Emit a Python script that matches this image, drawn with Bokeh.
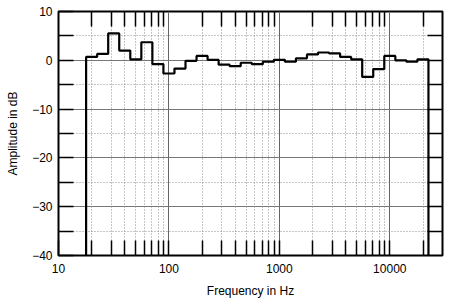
import math
from bokeh.plotting import figure
from bokeh.models import FixedTicker, LogAxis, LinearAxis, ColumnDataSource
from bokeh.embed import file_html
from bokeh.resources import INLINE

# one-third-octave band centres (Hz) and measured level (dB)
band_hz = [20, 25, 31.5, 40, 50, 63, 80, 100, 125, 160, 200, 250, 315, 400, 500,
           630, 800, 1000, 1250, 1600, 2000, 2500, 3150, 4000, 5000, 6300, 8000,
           10000, 12500, 16000, 20000]
level_db = [0.7, 1.3, 5.5, 2.0, 0.2, 3.7, -0.8, -2.7, -1.7, -0.1, 0.9, 0.1, -0.9, -1.2, -0.5,
            -0.8, -0.3, 0.1, -0.3, 0.4, 1.2, 1.6, 1.4, 0.7, 0.2, -3.4, -1.8,
            0.9, 0.0, -0.3, 0.2]
floor_db = -40

x_major = [10, 100, 1000, 10000]
x_minor = [20, 30, 40, 50, 60, 70, 80, 90, 200, 300, 400, 500, 600, 700, 800, 900,
           2000, 3000, 4000, 5000, 6000, 7000, 8000, 9000, 20000]
y_major = [-40, -30, -20, -10, 0, 10]
y_minor = [-35, -25, -15, -5, 5]

# build stepped outline from band edges
xs, ys = [], []
for i, (f, v) in enumerate(zip(band_hz, level_db)):
    k = round(10 * math.log10(f / 1000.0))
    lo = 1000.0 * 10 ** ((k - 0.5) / 10)
    hi = 1000.0 * 10 ** ((k + 0.5) / 10)
    if i == 0:
        xs.append(lo); ys.append(floor_db)
    xs += [lo, hi]
    ys += [v, v]
    if i == len(band_hz) - 1:
        xs.append(hi); ys.append(floor_db)

FONT = "Liberation Sans"

p = figure(width=450, height=307, x_axis_type="log", x_range=(10, 30000), y_range=(-40, 10),
           output_backend="svg", toolbar_location=None,
           min_border_left=58, min_border_right=8, min_border_top=11, min_border_bottom=52)
p.background_fill_color = "white"
p.border_fill_color = "white"
p.outline_line_color = "black"
p.outline_line_width = 2

xt = FixedTicker(ticks=x_major, minor_ticks=x_minor)
yt = FixedTicker(ticks=y_major, minor_ticks=y_minor)
p.xaxis.ticker = xt
p.yaxis.ticker = yt
p.xaxis.major_label_overrides = {10: "10", 100: "100", 1000: "1000", 10000: "10000"}

for ax in (p.xaxis[0], p.yaxis[0]):
    ax.axis_line_color = None
    ax.major_tick_in = 15
    ax.major_tick_out = 0
    ax.minor_tick_in = 15
    ax.minor_tick_out = 0
    ax.major_tick_line_color = "black"
    ax.minor_tick_line_color = "black"
    ax.major_tick_line_width = 1.5
    ax.minor_tick_line_width = 1.5
    ax.major_label_text_font = FONT
    ax.major_label_text_font_size = "12px"
    ax.major_label_text_color = "black"
    ax.axis_label_text_font = FONT
    ax.axis_label_text_font_size = "12px"
    ax.axis_label_text_font_style = "normal"
    ax.axis_label_text_color = "black"

p.xaxis.axis_label = "Frequency in Hz"
p.xaxis.major_label_standoff = 8
p.xaxis.axis_label_standoff = 8
p.yaxis.axis_label = "Amplitude in dB"
p.yaxis.major_label_standoff = 6
p.yaxis.axis_label_standoff = 9
p.yaxis.major_label_orientation = "horizontal"

top = LogAxis(ticker=FixedTicker(ticks=[], minor_ticks=x_minor))
right = LinearAxis(ticker=FixedTicker(ticks=[], minor_ticks=y_minor + y_major[1:-1]))
for ax in (top, right):
    ax.axis_line_color = None
    ax.major_tick_in = 0
    ax.major_tick_out = 0
    ax.minor_tick_in = 15
    ax.minor_tick_out = 0
    ax.minor_tick_line_color = "black"
    ax.minor_tick_line_width = 1.5
    ax.major_label_standoff = 0
p.add_layout(top, "above")
p.add_layout(right, "right")

p.xgrid.grid_line_color = "#666666"
p.xgrid.grid_line_width = 1
p.xgrid.minor_grid_line_color = "#8c8c8c"
p.xgrid.minor_grid_line_dash = "1 2"
p.ygrid.grid_line_color = "#777777"
p.ygrid.grid_line_width = 1
p.ygrid.minor_grid_line_color = "#8c8c8c"
p.ygrid.minor_grid_line_dash = "1 2"

src = ColumnDataSource(dict(x=xs, y=ys))
p.line("x", "y", source=src, line_color="black", line_width=2.2)

open("out.html", "w").write(file_html(p, INLINE))
